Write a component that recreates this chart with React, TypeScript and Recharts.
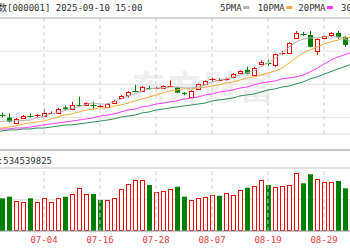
import React from 'react';
import { ComposedChart, Bar, Line, XAxis, YAxis, CartesianGrid, ReferenceLine } from 'recharts';

const DATES = [
  '06-25', '06-26', '06-27', '06-30', '07-01', '07-02', '07-03', '07-04', '07-07', '07-08',
  '07-09', '07-10', '07-11', '07-14', '07-15', '07-16', '07-17', '07-18', '07-21', '07-22',
  '07-23', '07-24', '07-25', '07-28', '07-29', '07-30', '07-31', '08-01', '08-04', '08-05',
  '08-06', '08-07', '08-08', '08-11', '08-12', '08-13', '08-14', '08-15', '08-18', '08-19',
  '08-20', '08-21', '08-22', '08-25', '08-26', '08-27', '08-28', '08-29', '09-01', '09-02',
  '09-03', '09-04',
];
const OPEN = [
  3450, 3461, 3445, 3419, 3445, 3457, 3455, 3455, 3468, 3471,
  3497, 3491, 3513, 3510, 3515, 3505, 3502, 3522, 3548, 3564,
  3586, 3584, 3602, 3597, 3600, 3608, 3600, 3573, 3552, 3594,
  3620, 3640, 3638, 3645, 3656, 3677, 3692, 3664, 3723, 3731,
  3718, 3778, 3780, 3857, 3880, 3872, 3790, 3857, 3874, 3883,
  3862, 3805,
];
const HIGH = [
  3470, 3471, 3466, 3442, 3458, 3466, 3463, 3491, 3477, 3494,
  3507, 3527, 3553, 3524, 3527, 3512, 3520, 3537, 3561, 3582,
  3615, 3608, 3610, 3605, 3612, 3638, 3605, 3576, 3586, 3622,
  3638, 3650, 3648, 3652, 3675, 3690, 3708, 3708, 3740, 3746,
  3777, 3790, 3834, 3893, 3888, 3893, 3855, 3870, 3886, 3893,
  3866, 3810,
];
const LOW = [
  3445, 3445, 3420, 3417, 3442, 3445, 3448, 3452, 3463, 3469,
  3484, 3488, 3508, 3506, 3486, 3497, 3499, 3519, 3545, 3548,
  3576, 3581, 3589, 3592, 3597, 3602, 3571, 3560, 3548, 3592,
  3617, 3630, 3632, 3636, 3652, 3672, 3668, 3660, 3716, 3712,
  3708, 3770, 3776, 3852, 3867, 3808, 3769, 3850, 3862, 3852,
  3811, 3740,
];
const CLOSE = [
  3465, 3459, 3424, 3440, 3455, 3454, 3458, 3471, 3473, 3491,
  3488, 3509, 3510, 3519, 3510, 3507, 3517, 3533, 3558, 3579,
  3582, 3605, 3598, 3600, 3610, 3611, 3574, 3566, 3584, 3620,
  3636, 3644, 3641, 3649, 3672, 3687, 3672, 3699, 3733, 3727,
  3775, 3781, 3831, 3883, 3876, 3811, 3852, 3867, 3883, 3862,
  3821, 3759,
];
// volume, 100 million lots
const VOLUME = [
  5.3, 5.19, 5.44, 4.76, 4.56, 5.19, 4.56, 5.24, 4.56, 5.19,
  5.44, 5.83, 6.9, 5.87, 5.87, 4.92, 4.92, 5.24, 6.67, 7.46,
  8.1, 8.1, 7.3, 6.24, 6.4, 6.62, 7.03, 5.44, 4.92, 5.29,
  5.44, 5.71, 5.6, 5.98, 5.71, 6.51, 6.87, 7.19, 8.1, 7.3,
  7.03, 7.19, 7.3, 9.16, 7.57, 9.0, 8.21, 7.73, 7.73, 7.94,
  6.78, 7.83,
];
const MA5 = [
  3422, 3425, 3427, 3427, 3430, 3432, 3443, 3453, 3464, 3471,
  3482, 3492, 3502, 3513, 3520, 3515, 3515, 3526, 3541, 3557,
  3567, 3582, 3593, 3598, 3598, 3603, 3603, 3598, 3598, 3603,
  3614, 3629, 3639, 3645, 3655, 3665, 3676, 3686, 3707, 3727,
  3753, 3779, 3810, 3836, 3851, 3857, 3857, 3862, 3862, 3862,
  3851, 3836,
];
const MA10 = [
  3386, 3391, 3396, 3401, 3412, 3417, 3422, 3427, 3438, 3448,
  3458, 3464, 3474, 3484, 3489, 3495, 3495, 3505, 3510, 3520,
  3531, 3541, 3551, 3562, 3572, 3582, 3588, 3593, 3593, 3598,
  3603, 3608, 3614, 3624, 3629, 3639, 3650, 3655, 3665, 3676,
  3686, 3701, 3727, 3753, 3779, 3795, 3810, 3826, 3836, 3846,
  3857, 3862,
];
const MA20 = [
  3381, 3386, 3386, 3391, 3391, 3396, 3401, 3407, 3412, 3417,
  3422, 3427, 3432, 3438, 3443, 3453, 3458, 3464, 3474, 3484,
  3489, 3500, 3505, 3515, 3520, 3526, 3531, 3541, 3546, 3551,
  3562, 3567, 3577, 3582, 3588, 3598, 3603, 3614, 3624, 3629,
  3634, 3645, 3650, 3655, 3665, 3681, 3699, 3722, 3743, 3758,
  3771, 3784,
];
const MA30 = [
  3370, 3376, 3381, 3381, 3386, 3386, 3391, 3391, 3396, 3401,
  3407, 3407, 3412, 3417, 3422, 3427, 3432, 3438, 3448, 3453,
  3458, 3469, 3474, 3484, 3489, 3495, 3500, 3505, 3510, 3515,
  3520, 3531, 3536, 3541, 3546, 3557, 3562, 3567, 3577, 3588,
  3593, 3603, 3608, 3619, 3629, 3645, 3655, 3670, 3683, 3696,
  3709, 3722,
];
const TICK_DATES = ['07-04', '07-16', '07-28', '08-07', '08-19', '08-29'];
const TITLE = '上证指数[000001] 2025-09-10 15:00';
const LEGEND_NAMES = ['5PMA', '10PMA', '20PMA', '30PMA'];
const VOL_LABEL = '成交量:534539825';
const WATERMARK = '东方财富';

const PRICE_MIN = 3360;
const PRICE_MAX = 3960;
const PRICE_TICKS = Array.from({ length: 8 }, (_, k) => PRICE_MIN + (k * (PRICE_MAX - PRICE_MIN)) / 7);
const VOL_GRID_MAX = 10;
const VOL_TICKS = [0, 2.5, 5, 7.5, 10];
const VOL_DOMAIN_MAX = (VOL_GRID_MAX * 90) / 70;

const data = DATES.map((d, i) => ({
  d,
  o: OPEN[i],
  h: HIGH[i],
  l: LOW[i],
  c: CLOSE[i],
  range: [LOW[i], HIGH[i]],
  v: VOLUME[i],
  up: i === 0 ? true : CLOSE[i] >= CLOSE[i - 1],
  ma5: MA5[i],
  ma10: MA10[i],
  ma20: MA20[i],
  ma30: MA30[i],
}));

const RED = '#ff0000';
const GREEN = '#008000';
const MONO = '"DejaVu Sans Mono", "Noto Sans CJK SC", monospace';
const MA_COLORS = ['#b4b4b4', '#f5ad3c', '#ff3cff', '#2f8f5a'];

function CandleShape(props: any) {
  const { x, y, width, height, payload } = props;
  if (x == null || payload == null) return null;
  const { o, h, l, c } = payload;
  const span = h - l;
  const k = span > 0 ? height / span : 0;
  const yOf = (v: number) => y + (h - v) * k;
  const cx = Math.floor(x + width / 2) + 0.5;
  const up = c >= o;
  const color = up ? RED : GREEN;
  const top = yOf(Math.max(o, c));
  const bot = yOf(Math.min(o, c));
  const yH = y;
  const yL = y + height;
  if (bot - top < 1.2) {
    const yy = Math.round((top + bot) / 2) + 0.5;
    return (
      <g>
        <line x1={cx} x2={cx} y1={yH} y2={yL} stroke={color} strokeWidth={1} />
        <line x1={cx - 3} x2={cx + 3} y1={yy} y2={yy} stroke={color} strokeWidth={1} />
      </g>
    );
  }
  if (up) {
    const t = Math.round(top) + 0.5;
    const b = Math.round(bot) + 0.5;
    return (
      <g>
        <line x1={cx} x2={cx} y1={yH} y2={t} stroke={color} strokeWidth={1} />
        <line x1={cx} x2={cx} y1={b} y2={yL} stroke={color} strokeWidth={1} />
        <rect x={cx - 2} y={t} width={4} height={Math.max(b - t, 1)} fill="#fff" stroke={color} strokeWidth={1} />
      </g>
    );
  }
  return (
    <g>
      <line x1={cx} x2={cx} y1={yH} y2={yL} stroke={color} strokeWidth={1} />
      <rect x={cx - 2.5} y={top} width={5} height={bot - top} fill={color} />
    </g>
  );
}

function VolShape(props: any) {
  const { x, y, width, height, payload } = props;
  if (x == null || payload == null) return null;
  const cx = Math.floor(x + width / 2) + 0.5;
  const bottom = y + height;
  if (payload.up) {
    const t = Math.round(y) + 0.5;
    return <rect x={cx - 2} y={t} width={4} height={Math.max(bottom - t - 0.5, 1)} fill="#fff" stroke={RED} strokeWidth={1} />;
  }
  return <rect x={cx - 2.5} y={y} width={5} height={height} fill={GREEN} />;
}

const LEGEND_X = [220, 257.7, 298.3, 341];

export default function App() {
  return (
    <div style={{ position: 'absolute', left: 0, top: 0, width: 350, height: 250, overflow: 'hidden', background: '#fff' }}>
      <svg width={350} height={250} style={{ position: 'absolute', left: 0, top: 0 }}>
        <text x={132} y={99} fontSize={33} fontWeight={700} fontFamily='"Noto Sans CJK SC", sans-serif' fill="#efefef" letterSpacing={3}>
          {WATERMARK}
        </text>
      </svg>
      <div style={{ position: 'absolute', left: -20, top: 0 }}>
        <ComposedChart width={380} height={250} data={data} margin={{ top: 18, right: 4.5, bottom: 116, left: 11.5 }}>
          <CartesianGrid vertical={false} stroke="#e4e4e4" />
          <XAxis dataKey="d" hide />
          <YAxis hide domain={[PRICE_MIN, PRICE_MAX]} ticks={PRICE_TICKS} />
          {TICK_DATES.map((d) => (
            <ReferenceLine key={d} x={d} stroke="#cfcfcf" strokeDasharray="4 3" />
          ))}
          <ReferenceLine y={PRICE_MAX} stroke="#b8b8b8" />
          <Line dataKey="ma30" stroke={MA_COLORS[3]} strokeWidth={1} dot={false} isAnimationActive={false} type="linear" />
          <Line dataKey="ma20" stroke={MA_COLORS[2]} strokeWidth={1} dot={false} isAnimationActive={false} type="linear" />
          <Line dataKey="ma10" stroke={MA_COLORS[1]} strokeWidth={1} dot={false} isAnimationActive={false} type="linear" />
          <Line dataKey="ma5" stroke={MA_COLORS[0]} strokeWidth={1} dot={false} isAnimationActive={false} type="linear" />
          <Bar dataKey="range" barSize={5} shape={(p: any) => <CandleShape {...p} />} isAnimationActive={false} />
        </ComposedChart>
      </div>
      <div style={{ position: 'absolute', left: -20, top: 0 }}>
        <ComposedChart width={380} height={250} data={data} margin={{ top: 150, right: 4.5, bottom: 0, left: 11.5 }}>
          <CartesianGrid vertical={false} stroke="#e4e4e4" />
          <XAxis
            dataKey="d"
            ticks={TICK_DATES}
            interval={0}
            height={19}
            tickLine={false}
            tickSize={0}
            tickMargin={6}
            axisLine={{ stroke: '#999999' }}
            tick={{ fill: '#f03c3c', fontSize: 9, fontFamily: MONO }}
          />
          <YAxis hide domain={[0, VOL_DOMAIN_MAX]} ticks={VOL_TICKS} />
          {TICK_DATES.map((d) => (
            <ReferenceLine
              key={d}
              segment={[{ x: d, y: 0 }, { x: d, y: VOL_GRID_MAX }]}
              stroke="#cfcfcf"
              strokeDasharray="4 3"
            />
          ))}
          <ReferenceLine y={VOL_DOMAIN_MAX} stroke="#c4c4c4" strokeWidth={2} />
          <ReferenceLine y={VOL_GRID_MAX} stroke="#d0d0d0" />
          <Bar dataKey="v" barSize={5} shape={(p: any) => <VolShape {...p} />} isAnimationActive={false} />
        </ComposedChart>
      </div>
      <svg width={350} height={250} style={{ position: 'absolute', left: 0, top: 0, pointerEvents: 'none' }}>
        <text x={-29} y={11} fontSize={9} fontFamily={MONO} fill="#333">
          {TITLE}
        </text>
        {LEGEND_NAMES.map((n, i) => (
          <g key={n}>
            <text x={LEGEND_X[i]} y={11} fontSize={9} fontFamily={MONO} fill="#333">
              {n}
            </text>
            <rect x={LEGEND_X[i] + n.length * 5.42 + 1.5} y={6} width={6} height={3} fill={MA_COLORS[i]} />
          </g>
        ))}
        <text x={52} y={163.5} fontSize={9} fontFamily={MONO} fill="#333" textAnchor="end">
          {VOL_LABEL}
        </text>
      </svg>
    </div>
  );
}
